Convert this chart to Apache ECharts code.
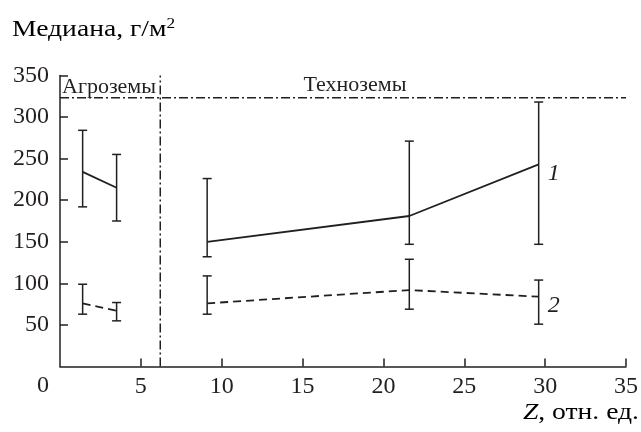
<!DOCTYPE html>
<html><head><meta charset="utf-8">
<script src="https://cdn.jsdelivr.net/npm/echarts@6/dist/echarts.min.js"></script>
<style>html,body{margin:0;padding:0;background:#fff}#c{width:641px;height:432px}</style>
</head><body><div id="c"></div>
<script>
// ---- data ----
const agroZ = [1.4, 3.5];
const technoZ = [9.1, 21.6, 29.6];
// series 1 (solid)
const s1Agro = [234, 215];
const s1AgroLow = [192, 175];
const s1AgroHigh = [284, 255];
const s1Techno = [150, 181, 243];
const s1TechnoLow = [132, 147, 147];
const s1TechnoHigh = [226, 271, 318];
// series 2 (dashed)
const s2Agro = [76, 67];
const s2AgroLow = [63, 55];
const s2AgroHigh = [99, 77];
const s2Techno = [76, 92, 84];
const s2TechnoLow = [63, 69, 51];
const s2TechnoHigh = [109, 129, 104];
// reference lines
const boundaryZ = 6.2;
const ceilingValue = 323;
// axes
const xMin = 0, xMax = 35, xStep = 5;
const yMin = 0, yMax = 350, yStep = 50;

const INK = '#231f20';
const FONT = '"Liberation Serif", "DejaVu Serif", serif';
const FS = 24;

function pairs(xs, ys) { return xs.map((x, i) => [x, ys[i]]); }
function bars(xs, lo, hi) { return xs.map((x, i) => [x, lo[i], hi[i]]); }

function errorBarItem(params, api) {
  const x = api.value(0);
  const lo = api.coord([x, api.value(1)]);
  const hi = api.coord([x, api.value(2)]);
  const h = 4.5;
  const style = { stroke: INK, lineWidth: 1.5 };
  return {
    type: 'group',
    children: [
      { type: 'line', shape: { x1: lo[0], y1: lo[1], x2: hi[0], y2: hi[1] }, style },
      { type: 'line', shape: { x1: lo[0] - h, y1: lo[1], x2: lo[0] + h, y2: lo[1] }, style },
      { type: 'line', shape: { x1: hi[0] - h, y1: hi[1], x2: hi[0] + h, y2: hi[1] }, style }
    ]
  };
}

const errSeries = (data) => ({
  type: 'custom', renderItem: errorBarItem, data: data,
  encode: { x: 0, y: [1, 2] }, silent: true, z: 3
});

const solid = { color: INK, width: 1.8, type: 'solid' };
const dashed = { color: INK, width: 1.8, type: [8, 5] };
const dashDot = { color: INK, width: 1.5, type: [9, 3, 2, 3] };

const endLbl = (txt) => ({
  show: true, formatter: txt, color: INK, fontFamily: FONT, fontSize: FS,
  fontStyle: 'italic', distance: 9, offset: [0, 9]
});

const chart = echarts.init(document.getElementById('c'), null, { renderer: 'canvas' });
chart.setOption({
  animation: false,
  backgroundColor: '#fff',
  grid: { left: 60, right: 13.5, top: 75.4, bottom: 65.4 },
  xAxis: {
    type: 'value', min: xMin, max: xMax, interval: xStep,
    axisLine: { show: true, onZero: false, lineStyle: { color: INK, width: 1.5 } },
    axisTick: { show: true, inside: true, length: 8, lineStyle: { color: INK, width: 1.5 } },
    axisLabel: { showMinLabel: false, color: INK, fontFamily: FONT, fontSize: FS, margin: 8 },
    splitLine: { show: false }
  },
  yAxis: {
    type: 'value', min: yMin, max: yMax, interval: yStep,
    axisLine: { show: true, onZero: false, lineStyle: { color: INK, width: 1.5 } },
    axisTick: { show: true, inside: true, length: 8, lineStyle: { color: INK, width: 1.5 } },
    axisLabel: { showMinLabel: false, color: INK, fontFamily: FONT, fontSize: FS, margin: 11 },
    splitLine: { show: false }
  },
  series: [
    { type: 'line', data: pairs(agroZ, s1Agro), symbol: 'none', lineStyle: solid, z: 4 },
    { type: 'line', data: pairs(technoZ, s1Techno), symbol: 'none', lineStyle: solid, z: 4, endLabel: endLbl('1') },
    { type: 'line', data: pairs(agroZ, s2Agro), symbol: 'none', lineStyle: dashed, z: 4 },
    { type: 'line', data: pairs(technoZ, s2Techno), symbol: 'none', lineStyle: dashed, z: 4, endLabel: endLbl('2') },
    errSeries(bars(agroZ, s1AgroLow, s1AgroHigh)),
    errSeries(bars(technoZ, s1TechnoLow, s1TechnoHigh)),
    errSeries(bars(agroZ, s2AgroLow, s2AgroHigh)),
    errSeries(bars(technoZ, s2TechnoLow, s2TechnoHigh)),
    { type: 'line', data: [[xMin, ceilingValue], [xMax, ceilingValue]], symbol: 'none', lineStyle: dashDot, z: 2, silent: true },
    { type: 'line', data: [[boundaryZ, yMin], [boundaryZ, yMax]], symbol: 'none', lineStyle: dashDot, z: 2, silent: true }
  ],
  graphic: [
    { type: 'text', x: 12, y: 30, scaleX: 1.15, style: {
        text: '{a|Медиана, г/м}{s|2}', verticalAlign: 'middle', align: 'left',
        rich: { a: { fontFamily: FONT, fontSize: FS, color: INK },
                s: { fontFamily: FONT, fontSize: 15, color: INK, verticalAlign: 'top', padding: [0, 0, 12, 0] } } } },
    { type: 'text', x: 43, y: 386, style: { text: '0', fill: INK, font: FS + 'px ' + FONT, align: 'center', verticalAlign: 'middle' } },
    { type: 'text', x: 639, y: 413, scaleX: 1.15, style: {
        text: '{i|Z}{n|, отн. ед.}', align: 'right', verticalAlign: 'middle',
        rich: { i: { fontFamily: FONT, fontSize: FS, fontStyle: 'italic', color: INK },
                n: { fontFamily: FONT, fontSize: FS, color: INK } } } },
    { type: 'text', x: 62, y: 87, style: { text: 'Агроземы', fill: INK, font: '22px ' + FONT, align: 'left', verticalAlign: 'middle' } },
    { type: 'text', x: 355, y: 85, style: { text: 'Техноземы', fill: INK, font: '22px ' + FONT, align: 'center', verticalAlign: 'middle' } }
  ]
});
</script>
</body></html>
